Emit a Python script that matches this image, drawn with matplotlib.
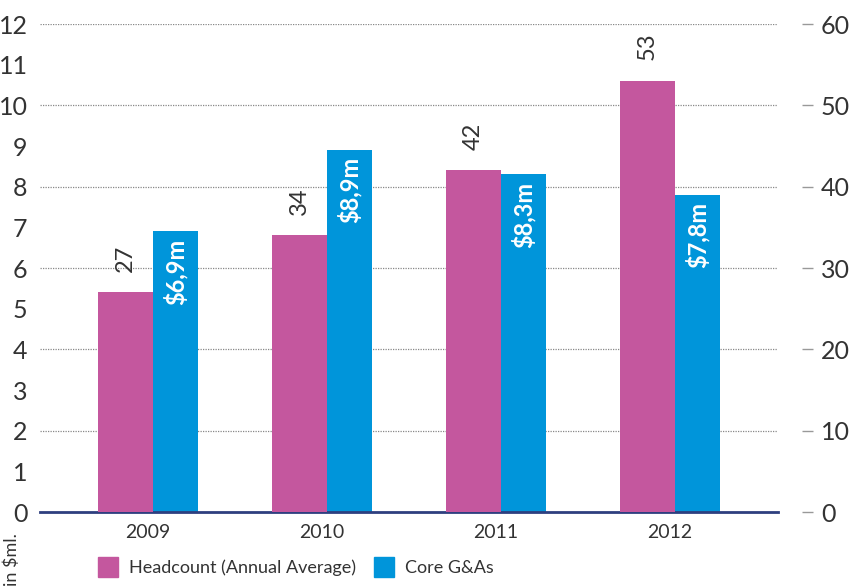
import numpy as np
import matplotlib.pyplot as plt

# DATA ---------------------------------------------------------------------------------------------
years = ["2009", "2010", "2011", "2012"]
headcount = [27, 34, 42, 53]          # right axis
core_ga = [6.9, 8.9, 8.3, 7.8]        # left axis, in $ml.
ga_labels = ["$6,9m", "$8,9m", "$8,3m", "$7,8m"]

left_ticks = list(range(0, 13))
right_ticks = [0, 10, 20, 30, 40, 50, 60]

PINK = "#c4579e"
BLUE = "#0095da"
NAVY = "#2e3f7f"
TXT = "#333333"

plt.rcParams['font.family'] = ['Lato', 'DejaVu Sans']

# PLOT ---------------------------------------------------------------------------------------------
fig = plt.figure(figsize=(8.5, 5.87), dpi=100)
ax = fig.add_axes([40/850, 1-512/587, 738/850, 488/587])
ax2 = ax.twinx()

x = np.arange(len(years))
w_pink, w_blue = 55/174, 45/174
off_pink, off_blue = -22.5/174, 27.5/174

bars_ga = ax.bar(x + off_blue, core_ga, width=w_blue, color=BLUE, zorder=3)
bars_hc = ax2.bar(x + off_pink, headcount, width=w_pink, color=PINK, zorder=3)

ax.set_xlim(-0.62, 3.62)
ax.set_ylim(0, 12)
ax2.set_ylim(0, 60)

# grid at every other left tick
for g in range(2, 13, 2):
    ax.axhline(g, color="#888888", lw=0.9, ls=(0, (1, 1)), zorder=1)

# axes
for s in ["top", "left", "right"]:
    ax.spines[s].set_visible(False)
    ax2.spines[s].set_visible(False)
ax2.spines["bottom"].set_visible(False)
ax.spines["bottom"].set_color(NAVY)
ax.spines["bottom"].set_linewidth(2)
ax.spines["bottom"].set_zorder(5)

ax.set_yticks(left_ticks)
ax.tick_params(axis="y", length=0, pad=9, labelsize=18, labelcolor=TXT)
ax.set_xticks(x)
ax.set_xticklabels(years)
ax.tick_params(axis="x", length=0, pad=9, labelsize=14, labelcolor=TXT)

ax2.spines["right"].set_position(("outward", 17))
ax2.set_yticks(right_ticks)
ax2.tick_params(axis="y", length=8, width=1, color="#999999", pad=6,
                labelsize=18, labelcolor=TXT)

# value labels
for b, v in zip(bars_hc, headcount):
    ax2.annotate(str(v), (b.get_x() + b.get_width()/2, v), xytext=(0, 15),
                 textcoords="offset points", rotation=90, ha="center", va="bottom",
                 fontsize=17, color=TXT)
for b, v, lab in zip(bars_ga, core_ga, ga_labels):
    ax.annotate(lab, (b.get_x() + b.get_width()/2, v), xytext=(0, -5),
                textcoords="offset points", rotation=90, ha="center", va="top",
                fontsize=17, color="white", fontweight="bold", zorder=6)

# legend
handles = [plt.Rectangle((0, 0), 1, 1, color=PINK), plt.Rectangle((0, 0), 1, 1, color=BLUE)]
fig.legend(handles, ["Headcount (Annual Average)", "Core G&As"], ncol=2, frameon=False,
           loc="center left", bbox_to_anchor=(82/850, 1-567/587), fontsize=13,
           handlelength=1.1, handleheight=1.4, handletextpad=0.6, columnspacing=1.0,
           labelcolor=TXT)

fig.text(12/850, 1-560/587, "in $ml.", rotation=90, ha="center", va="center",
         fontsize=13, color=TXT)

fig.savefig("out.png", dpi=100)
